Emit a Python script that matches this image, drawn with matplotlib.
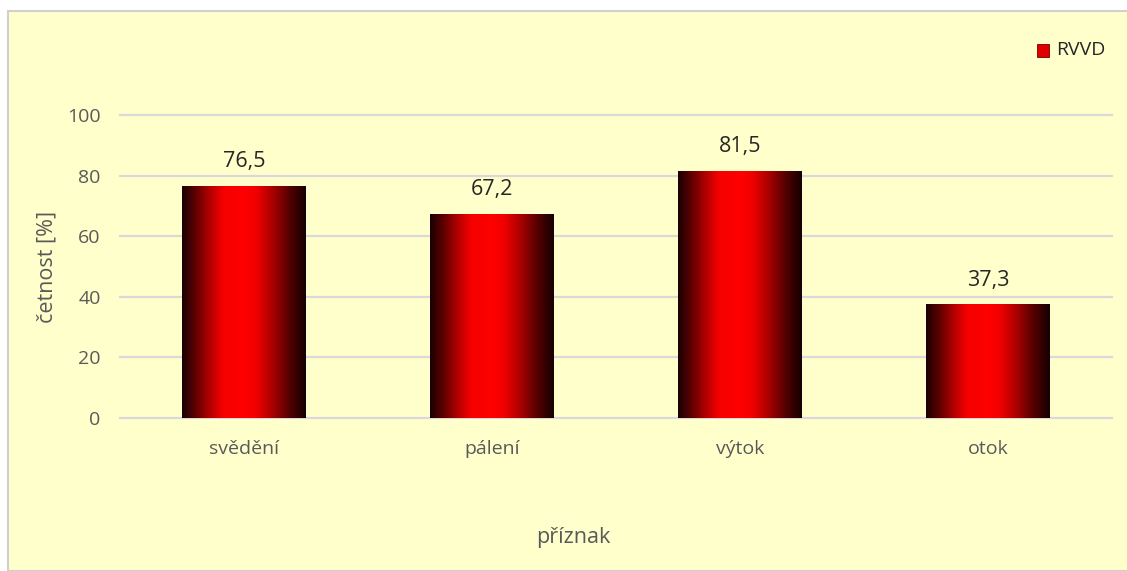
import numpy as np
import matplotlib.pyplot as plt
from matplotlib.colors import LinearSegmentedColormap
from matplotlib.patches import Rectangle

categories = ["svědění", "pálení", "výtok", "otok"]
values = [76.5, 67.2, 81.5, 37.3]
value_labels = ["76,5", "67,2", "81,5", "37,3"]
series_name = "RVVD"
yticks = [0, 20, 40, 60, 80, 100]

plt.rcParams['font.family'] = ['Open Sans', 'DejaVu Sans']
text_gray = "#595959"
text_dark = "#262626"

fig = plt.figure(figsize=(11.27, 5.71), dpi=100)
fig.patch.set_facecolor("white")

W, H = 1127, 571
# chart area background with light border
fig.patches.append(Rectangle((8 / W, 0), 1.0, 1 - 11 / H, transform=fig.transFigure,
                             facecolor="#FFFFCC", edgecolor="#D0D0D0", linewidth=1.5,
                             zorder=-5))

ax = fig.add_axes([120 / W, 153 / H, (1112 - 120) / W, (418 - 115) / H])
ax.set_facecolor("none")
ax.set_zorder(2)

# horizontal shading: dark edges, bright red centre
cmap = LinearSegmentedColormap.from_list(
    "bar", [(0.00, "#1a0000"), (0.10, "#5a0000"), (0.22, "#b00000"),
            (0.33, "#f50000"), (0.50, "#ff0000"), (0.60, "#f00000"),
            (0.72, "#b00000"), (0.86, "#5a0000"), (1.00, "#150000")])
grad = np.linspace(0, 1, 256).reshape(1, -1)
bar_w = 0.5
x = np.arange(len(categories))
for xi, v, lab in zip(x, values, value_labels):
    ax.imshow(grad, cmap=cmap, aspect="auto", interpolation="bicubic",
              extent=(xi - bar_w / 2, xi + bar_w / 2, 0, v), zorder=3)
    ax.text(xi, v + 6.3, lab, ha="center", va="baseline", fontsize=15.5,
            color=text_dark)

ax.set_xlim(-0.5, len(categories) - 0.5)
ax.set_ylim(0, 100)
ax.set_yticks(yticks)
ax.set_yticklabels([str(t) for t in yticks])
ax.set_xticks(x)
ax.set_xticklabels(categories)
ax.grid(axis="y", color="#D9D9D9", linewidth=1.6, zorder=1)
for gl in ax.get_ygridlines():
    gl.set_clip_on(False)
ax.set_axisbelow(True)
for s in ax.spines.values():
    s.set_visible(False)
ax.tick_params(length=0, labelsize=14, colors=text_gray)
ax.tick_params(axis="x", pad=16)
ax.tick_params(axis="y", pad=14)

ax.set_ylabel("četnost [%]", fontsize=15.5, color=text_gray)
ax.yaxis.set_label_coords((57 - 120) / 992, 0.5)
fig.text(573 / W, 1 - 538 / H, "příznak", ha="center", va="center",
         fontsize=15.5, color=text_gray)

# legend
fig.patches.append(Rectangle((1037 / W, 1 - 57 / H), 12 / W, 13 / H, transform=fig.transFigure,
                             facecolor="#e00000", edgecolor="#700000", linewidth=0.6,
                             zorder=3))
fig.text(1056 / W, 1 - 50 / H, series_name, ha="left", va="center",
         fontsize=14, color=text_dark, zorder=3)

fig.savefig("out.png", dpi=100, facecolor=fig.get_facecolor())
